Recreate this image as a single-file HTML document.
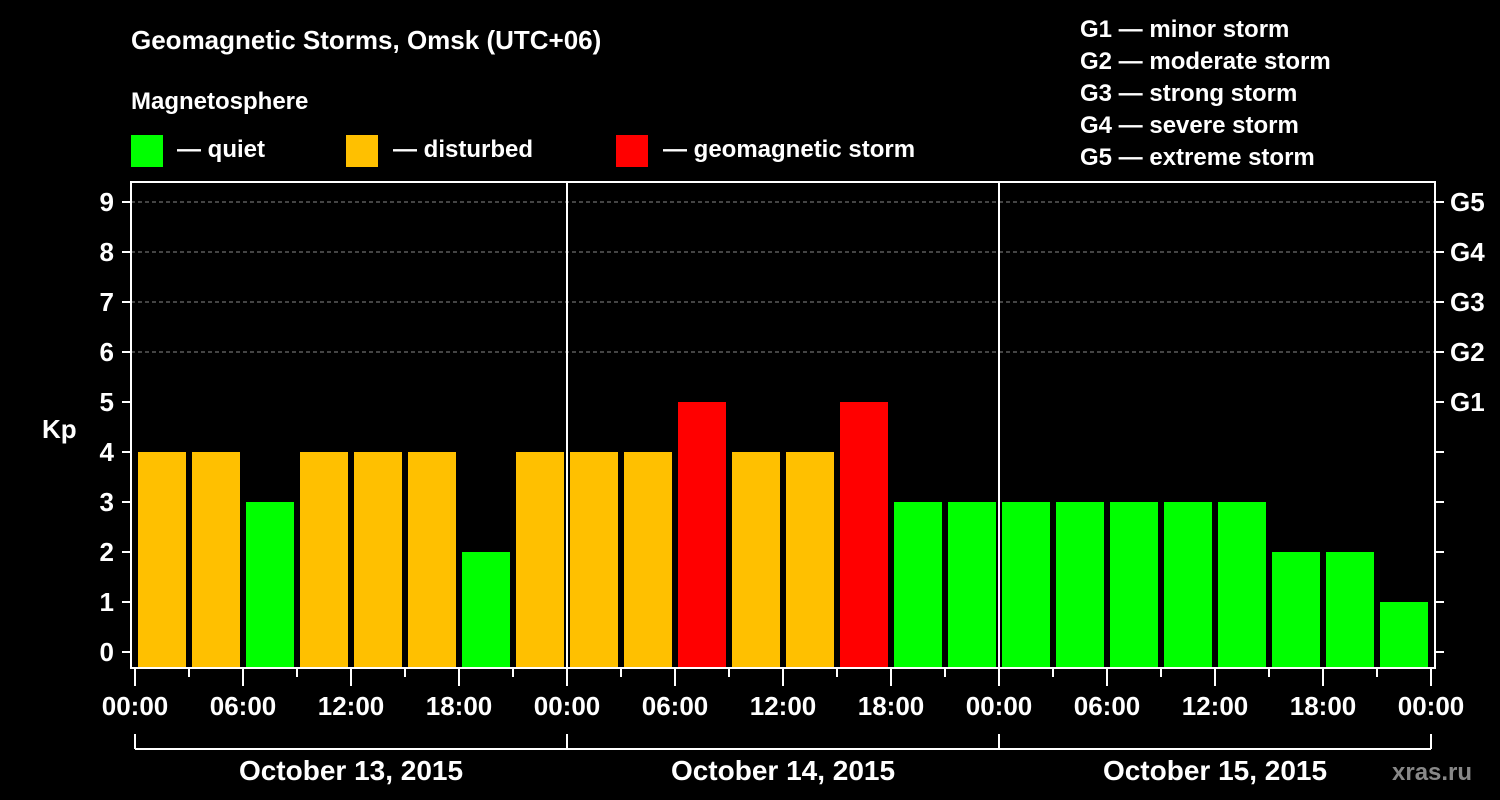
<!DOCTYPE html>
<html><head><meta charset="utf-8"><style>
body{margin:0;background:#000;}
svg{display:block;font-family:"Liberation Sans",Arial,sans-serif;font-weight:bold;}
</style></head><body>
<svg id="c" width="1500" height="800" xmlns="http://www.w3.org/2000/svg">
<rect width="1500" height="800" fill="#000"/>
<text x="131" y="49" fill="#fff" font-size="26">Geomagnetic Storms, Omsk (UTC+06)</text>
<text x="131" y="109" fill="#fff" font-size="24">Magnetosphere</text>
<g><rect x="131" y="135" width="32" height="32" fill="#00ff00"/><text x="177" y="157" fill="#fff" font-size="24">— quiet</text></g>
<g><rect x="346" y="135" width="32" height="32" fill="#ffc000"/><text x="393" y="157" fill="#fff" font-size="24">— disturbed</text></g>
<g><rect x="616" y="135" width="32" height="32" fill="#ff0000"/><text x="663" y="157" fill="#fff" font-size="24">— geomagnetic storm</text></g>
<g fill="#fff" font-size="24">
<text x="1080" y="37">G1 — minor storm</text>
<text x="1080" y="69">G2 — moderate storm</text>
<text x="1080" y="101">G3 — strong storm</text>
<text x="1080" y="133">G4 — severe storm</text>
<text x="1080" y="165">G5 — extreme storm</text>
</g>
<text x="42" y="438" fill="#fff" font-size="26">Kp</text>
<text x="1392" y="780" fill="#888" font-size="24">xras.ru</text>
<g id="plot"></g>
</svg>
<script>
const kpValues=[4,4,3,4,4,4,2,4, 4,4,5,4,4,5,3,3, 3,3,3,3,3,2,2,1];
const yTicks=[0,1,2,3,4,5,6,7,8,9];
const gLabels=["G1","G2","G3","G4","G5"];
const dayLabels=["October 13, 2015","October 14, 2015","October 15, 2015"];
const hourLabels=["00:00","06:00","12:00","18:00"];
const NS="http://www.w3.org/2000/svg";
const g=document.getElementById('plot');
const x0=135,hourPx=18;
const X=h=>x0+h*hourPx;
const Y=v=>652-v*50;
function mk(t,a,txt){const e=document.createElementNS(NS,t);for(const k in a)e.setAttribute(k,a[k]);if(txt!=null)e.textContent=txt;g.appendChild(e);return e;}
// grid
for(let v=6;v<=9;v++){const e=mk('line',{x1:131,x2:1435,y1:Y(v),y2:Y(v),stroke:'#888','stroke-dasharray':'4,3','stroke-width':1});

}
// bars
kpValues.forEach((v,i)=>{const col=v>=5?'#ff0000':(v>=4?'#ffc000':'#00ff00');
const r=mk('rect',{x:X(i*3)+3,y:Y(v),width:48,height:668-Y(v),fill:col});

});
// frame
const f=mk('rect',{x:131,y:182,width:1304,height:486,fill:'none',stroke:'#fff','stroke-width':2});


[1,2].forEach(d=>{const l=mk('line',{x1:X(d*24),x2:X(d*24),y1:182,y2:668,stroke:'#fff','stroke-width':2});

});
// y ticks
yTicks.forEach(v=>{mk('line',{x1:122,x2:131,y1:Y(v),y2:Y(v),stroke:'#fff','stroke-width':2});
mk('line',{x1:1435,x2:1444,y1:Y(v),y2:Y(v),stroke:'#fff','stroke-width':2});
const t=mk('text',{x:114,y:Y(v)+9,fill:'#fff','font-size':26,'text-anchor':'end'},v);

});
gLabels.forEach((s,i)=>{const t=mk('text',{x:1450,y:Y(5+i)+9,fill:'#fff','font-size':26},s);

});
// x ticks
for(let h=0;h<=72;h+=3){const big=h%6===0;mk('line',{x1:X(h),x2:X(h),y1:668,y2:big?686:677,stroke:'#fff','stroke-width':2});}
for(let h=0;h<=72;h+=6){const t=mk('text',{x:X(h),y:715,fill:'#fff','font-size':26,'text-anchor':'middle'},hourLabels[(h/6)%4]);

}
// day bracket
mk('line',{x1:X(0),x2:X(72),y1:749,y2:749,stroke:'#fff','stroke-width':2});
for(let d=0;d<=3;d++)mk('line',{x1:X(d*24),x2:X(d*24),y1:734,y2:749,stroke:'#fff','stroke-width':2});
dayLabels.forEach((s,d)=>{const t=mk('text',{x:X(d*24+12),y:780,fill:'#fff','font-size':28,'text-anchor':'middle'},s);

});
</script>
</body></html>
